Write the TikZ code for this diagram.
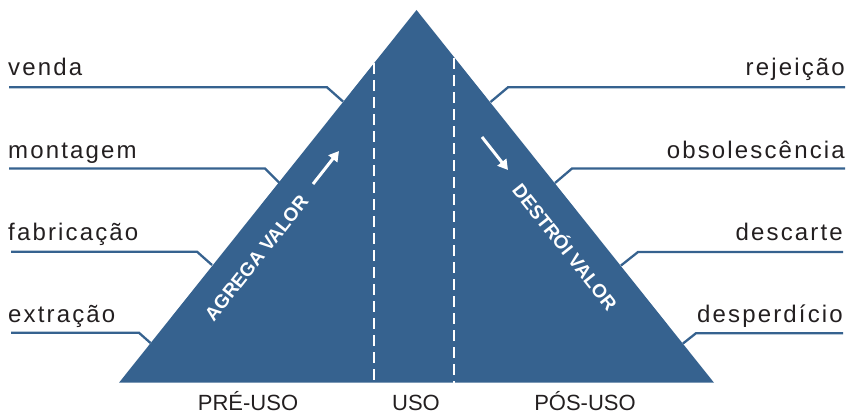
\documentclass[tikz,border=0pt]{standalone}
\usepackage{fontspec}
\setmainfont{Liberation Sans}
\usetikzlibrary{arrows.meta}
\definecolor{tri}{RGB}{54,98,143}
\definecolor{ink}{RGB}{35,31,32}
\tikzset{
  lbl/.style={inner sep=0pt, text=ink, font=\fontsize{24}{28}\selectfont\addfontfeature{LetterSpace=9}},
  phase/.style={inner sep=0pt, text=ink, font=\fontsize{22}{26}\selectfont},
  lead/.style={draw=tri, line width=2.3pt},
  sep/.style={draw=white, line width=2.6pt, dash pattern=on 11pt off 6pt},
  inner/.style={inner sep=0pt, text=white, font=\fontsize{19}{22}\selectfont\bfseries},
  wa/.style={draw=white, line width=3pt, -{Triangle[length=10pt,width=11pt]}}
}
\begin{document}
\begin{tikzpicture}[x=1pt,y=-1pt]
\useasboundingbox (0,0) rectangle (849,412);
% triangle
\coordinate (A) at (416.5,10);
\coordinate (BL) at (119,382.7);
\coordinate (BR) at (714,382.7);
\fill[tri] (A) -- (BL) -- (BR) -- cycle;
% separators
\coordinate (s1t) at (374,63);
\coordinate (s1b) at (374,382.7);
\coordinate (s2t) at (454,58);
\coordinate (s2b) at (454,382.7);
\draw[sep] (s1t) -- (s1b);
\draw[sep] (s2t) -- (s2b);
% left labels
\node[lbl, anchor=base west] (venda) at (8,76) {venda};
\node[lbl, anchor=base west] (mont) at (8,158) {montagem};
\node[lbl, anchor=base west] (fabr) at (8,240.5) {fabricação};
\node[lbl, anchor=base west] (extr) at (8,322.5) {extração};
\coordinate (l1a) at (9,87.3);   \coordinate (l1b) at (327,87.3);  \coordinate (l1c) at (343,101.5);
\coordinate (l2a) at (9,168.5);  \coordinate (l2b) at (265,168.5); \coordinate (l2c) at (279,182.5);
\coordinate (l3a) at (11,251.7); \coordinate (l3b) at (197,251.7); \coordinate (l3c) at (212,265);
\coordinate (l4a) at (11,332.8); \coordinate (l4b) at (139,332.8); \coordinate (l4c) at (150.5,343);
\draw[lead] (l1a) -- (l1b) -- (l1c);
\draw[lead] (l2a) -- (l2b) -- (l2c);
\draw[lead] (l3a) -- (l3b) -- (l3c);
\draw[lead] (l4a) -- (l4b) -- (l4c);
% right labels
\node[lbl, anchor=base east] (rej) at (845,75) {rejeição};
\node[lbl, anchor=base east] (obs) at (845,158) {obsolescência};
\node[lbl, anchor=base east] (desc) at (843,240.5) {descarte};
\node[lbl, anchor=base east] (desp) at (843,322) {desperdício};
\coordinate (r1a) at (845,87.3);  \coordinate (r1b) at (508,87.3);  \coordinate (r1c) at (490.5,102);
\coordinate (r2a) at (845,168.5); \coordinate (r2b) at (572,168.5); \coordinate (r2c) at (555,183);
\coordinate (r3a) at (843,252);   \coordinate (r3b) at (638,252);   \coordinate (r3c) at (621,265.5);
\coordinate (r4a) at (843,333.2); \coordinate (r4b) at (696,333.2); \coordinate (r4c) at (683,343.5);
\draw[lead] (r1a) -- (r1b) -- (r1c);
\draw[lead] (r2a) -- (r2b) -- (r2c);
\draw[lead] (r3a) -- (r3b) -- (r3c);
\draw[lead] (r4a) -- (r4b) -- (r4c);
% inner texts and arrows
\node[inner, rotate=51.5] (agrega) at (256.5,258) {AGREGA VALOR};
\node[inner, rotate=-51.5] (destroi) at (566,246) {DESTRÓI VALOR};
\coordinate (a1s) at (313,184);
\coordinate (a1e) at (339,151);
\coordinate (a2s) at (482,137);
\coordinate (a2e) at (508,170);
\draw[wa] (a1s) -- (a1e);
\draw[wa] (a2s) -- (a2e);
% phases
\node[phase, anchor=base] (pre) at (248,410.5) {PRÉ-USO};
\node[phase, anchor=base] (uso) at (416,410.5) {USO};
\node[phase, anchor=base] (pos) at (585,410.5) {PÓS-USO};
\end{tikzpicture}
\end{document}
